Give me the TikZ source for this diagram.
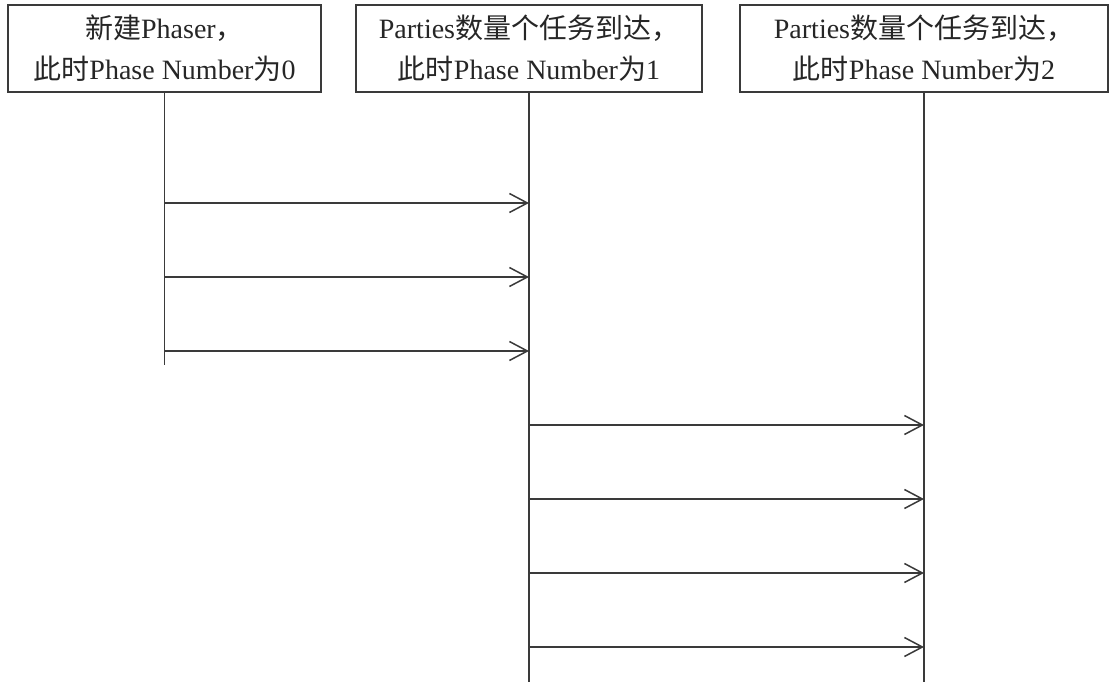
\documentclass[tikz,border=0pt]{standalone}
\usepackage{fontspec}
\setmainfont{Liberation Serif}
\newfontfamily\cjkfam{Noto Sans CJK SC}
\newcommand{\zh}[1]{{\cjkfam #1}}
\usetikzlibrary{arrows.meta}
\definecolor{ink}{HTML}{3A3A3A}
\tikzset{
  x=1pt, y=-1pt,
  phasebox/.style={draw=ink, line width=1.5pt, rectangle, minimum height=87pt,
    align=center, inner sep=0pt, font=\fontsize{28}{41}\selectfont, text=black!85},
  lifeline/.style={draw=ink, line width=1.5pt},
  msg/.style={draw=ink, line width=1.5pt, -{Straight Barb[length=18pt,width=19pt,line width=1.5pt]}}
}
\begin{document}
\begin{tikzpicture}
\useasboundingbox (0,0) rectangle (1117,684);
\node[phasebox, minimum width=313pt] (b1) at (164.5,48.5) {\zh{新建}Phaser\zh{，}\\\zh{此时}Phase Number\zh{为}0};
\node[phasebox, minimum width=346pt] (b2) at (529,48.5) {Parties\zh{数量个任务到达，}\\\zh{此时}Phase Number\zh{为}1};
\node[phasebox, minimum width=368pt] (b3) at (924,48.5) {Parties\zh{数量个任务到达，}\\\zh{此时}Phase Number\zh{为}2};
% lifeline ends
\coordinate (e1) at (164.5,365);
\coordinate (e2) at (529,682);
\coordinate (e3) at (924,682);
\draw[lifeline] (b1.south) -- (e1);
\draw[lifeline] (b2.south) -- (e2);
\draw[lifeline] (b3.south) -- (e3);
% message endpoints
\foreach \i/\y in {1/203,2/277,3/351}{
  \coordinate (s1\i) at (164.5,\y);
  \coordinate (t2\i) at (529,\y);
  \draw[msg] (s1\i) -- (t2\i);
}
\foreach \i/\y in {1/425,2/499,3/573,4/647}{
  \coordinate (s2\i) at (529,\y);
  \coordinate (t3\i) at (924,\y);
  \draw[msg] (s2\i) -- (t3\i);
}
\end{tikzpicture}
\end{document}
